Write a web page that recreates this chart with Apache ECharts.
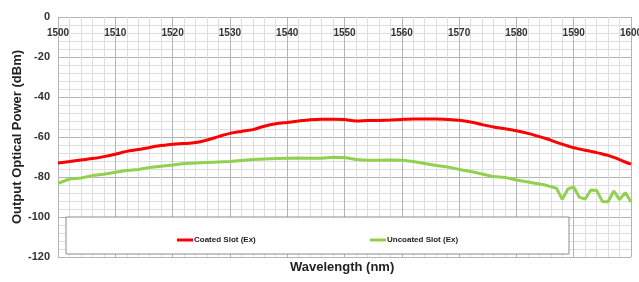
<!DOCTYPE html>
<html>
<head>
<meta charset="utf-8">
<script src="https://cdn.jsdelivr.net/npm/echarts@6/dist/echarts.min.js"></script>
<style>
  html, body { margin: 0; padding: 0; background: #fff; }
  #chart { width: 639px; height: 282px; }
</style>
</head>
<body>
<div id="chart"></div>
<script>
// wavelength (nm), 2 nm steps then 1 nm where the uncoated trace gets noisy
const wavelengths = [
  1500, 1502, 1504, 1506, 1508, 1510, 1512, 1514, 1516, 1518,
  1520, 1522, 1524, 1526, 1528, 1530, 1532, 1534, 1536, 1538,
  1540, 1542, 1544, 1546, 1548, 1550, 1552, 1554, 1556, 1558,
  1560, 1562, 1564, 1566, 1568, 1570, 1572, 1574, 1576, 1578,
  1580, 1582, 1584, 1585, 1586, 1587, 1588, 1589, 1590, 1591,
  1592, 1593, 1594, 1595, 1596, 1597, 1598, 1599, 1600
];
const coatedPower = [
  -73.0, -72.3, -71.5, -70.8, -69.8, -68.6, -67.2, -66.3, -65.2, -64.3,
  -63.6, -63.3, -62.8, -61.5, -59.8, -58.2, -57.2, -56.3, -54.6, -53.4,
  -52.7, -52.0, -51.4, -51.1, -51.1, -51.3, -52.0, -51.8, -51.7, -51.5,
  -51.2, -51.0, -51.0, -51.0, -51.2, -51.6, -52.5, -53.8, -55.0, -55.9,
  -56.9, -58.2, -59.8, -60.6, -61.6, -62.7, -63.6, -64.5, -65.4, -66.0,
  -66.6, -67.2, -67.8, -68.5, -69.2, -70.2, -71.3, -72.5, -73.6
];
const uncoatedPower = [
  -83.2, -81.0, -80.5, -79.3, -78.6, -77.6, -76.8, -76.2, -75.3, -74.6,
  -74.0, -73.3, -73.0, -72.7, -72.5, -72.3, -71.8, -71.3, -71.0, -70.8,
  -70.6, -70.5, -70.6, -70.6, -70.1, -70.3, -71.3, -71.6, -71.6, -71.5,
  -71.6, -72.3, -73.3, -74.2, -75.0, -76.2, -77.2, -78.5, -79.8, -80.2,
  -81.5, -82.5, -83.5, -84.0, -84.8, -85.6, -91.2, -86.0, -85.0, -90.2,
  -91.0, -86.5, -86.7, -92.2, -92.4, -87.0, -91.3, -87.8, -92.5
];
const seriesNames = ["Coated Slot (Ex)", "Uncoated Slot (Ex)"];

const font = "Liberation Sans Narrow, Liberation Sans, sans-serif";

function pairs(ys) {
  return wavelengths.map((x, i) => [x, ys[i]]);
}

const legendText = {
  fontSize: 8,
  fontWeight: "bold",
  color: "#222",
  padding: [0, 0, 0, -4],
};

const chart = echarts.init(document.getElementById("chart"));
chart.setOption({
  animation: false,
  textStyle: { fontFamily: font },
  grid: { left: 58, right: 8, top: 17, bottom: 25, outerBoundsMode: "none" },
  xAxis: {
    type: "value",
    position: "top",
    min: 1500,
    max: 1600,
    interval: 10,
    axisLine: { show: false },
    axisTick: { show: false },
    axisLabel: {
      inside: true,
      margin: 11,
      fontSize: 10,
      fontWeight: "bold",
      color: "#333",
      formatter: (v) => String(v),
    },
    splitLine: { show: true, lineStyle: { color: "#b4b4b4", width: 1 } },
    minorTick: { show: false, splitNumber: 5 },
    minorSplitLine: { show: true, lineStyle: { color: "#dedede", width: 1 } },
  },
  yAxis: {
    type: "value",
    min: -120,
    max: 0,
    interval: 20,
    name: "Output Optical Power (dBm)",
    nameLocation: "middle",
    nameGap: 34,
    nameMoveOverlap: false,
    nameTextStyle: { fontSize: 13, fontWeight: "bold", color: "#222" },
    axisLine: { show: false },
    axisTick: { show: false },
    axisLabel: { fontSize: 11, fontWeight: "bold", color: "#333", margin: 8 },
    splitLine: { show: true, lineStyle: { color: "#b4b4b4", width: 1 } },
    minorTick: { show: false, splitNumber: 5 },
    minorSplitLine: { show: true, lineStyle: { color: "#dedede", width: 1 } },
  },
  graphic: [
    {
      type: "rect",
      z: 5,
      shape: { x: 66, y: 217, width: 503, height: 37 },
      style: { fill: "#fff", stroke: "#8c8c8c", lineWidth: 1 },
    },
    {
      type: "text",
      z: 5,
      left: 290,
      top: 261,
      style: {
        text: "Wavelength (nm)",
        fontSize: 13,
        fontWeight: "bold",
        fontFamily: font,
        fill: "#222",
      },
    },
  ],
  legend: [
    {
      z: 10,
      left: 172,
      top: 231,
      data: [seriesNames[0]],
      icon: "rect",
      itemWidth: 16,
      itemHeight: 3,
      itemGap: 0,
      textStyle: legendText,
    },
    {
      z: 10,
      left: 365,
      top: 231,
      data: [seriesNames[1]],
      icon: "rect",
      itemWidth: 16,
      itemHeight: 3,
      itemGap: 0,
      textStyle: legendText,
    },
  ],
  series: [
    {
      name: seriesNames[0],
      type: "line",
      data: pairs(coatedPower),
      showSymbol: false,
      smooth: 0.3,
      lineStyle: { color: "#ff0000", width: 3 },
      itemStyle: { color: "#ff0000" },
    },
    {
      name: seriesNames[1],
      type: "line",
      data: pairs(uncoatedPower),
      showSymbol: false,
      lineStyle: { color: "#92d050", width: 3 },
      itemStyle: { color: "#92d050" },
    },
  ],
});
</script>
</body>
</html>
